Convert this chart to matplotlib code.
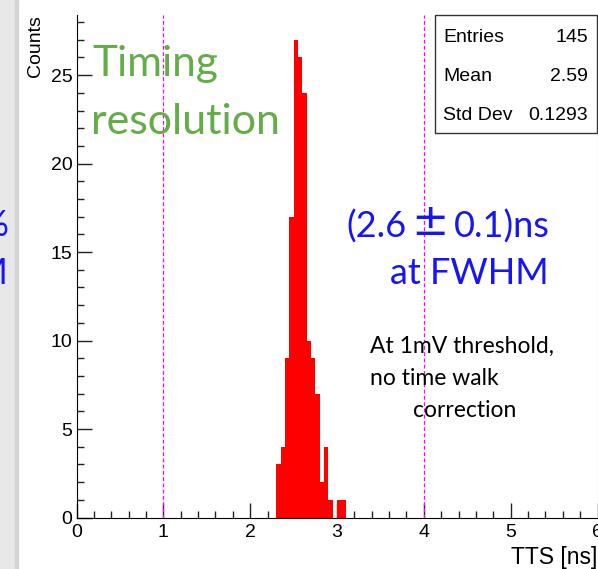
import matplotlib
matplotlib.use("Agg")
import matplotlib.pyplot as plt
from matplotlib.patches import Rectangle
from matplotlib.ticker import MultipleLocator

W, H = 598, 569

# histogram contents (bin width 0.05 ns)
bin_lo = [2.30, 2.35, 2.40, 2.45, 2.50, 2.55, 2.60, 2.65, 2.70, 2.75,
          2.80, 2.85, 2.90, 2.95, 3.00, 3.05]
counts = [3, 4, 9, 17, 27, 26, 24, 10, 9, 7, 2, 4, 1, 0, 1, 1]
bin_w = 0.05
cut_lines = [1, 4]
stats = [("Entries", "145"), ("Mean", "2.59"), ("Std Dev", "0.1293")]

def fx(x): return x / W
def fy(y): return 1 - y / H

fig = plt.figure(figsize=(W / 100, H / 100), dpi=100)
fig.patch.set_facecolor("white")
renderer = fig.canvas.get_renderer()

# grey strip of the slide on the left
fig.patches.append(Rectangle((0, 0), fx(15), 1, transform=fig.transFigure,
                             color="#e8e8e8", zorder=0))
fig.patches.append(Rectangle((fx(15), 0), fx(3), 1, transform=fig.transFigure,
                             color="#d4d4d4", zorder=0))
blue = "#1515f5"
fig.text(fx(9), fy(236), "5%", ha="right", va="baseline", color=blue,
         fontsize=26, family="Lato")
fig.text(fx(9), fy(284), "HM", ha="right", va="baseline", color=blue,
         fontsize=26, family="Lato")

ax = fig.add_axes([fx(76.5), 51.5 / H, (597.5 - 76.5) / W, (517.5 - 15) / H])
ax.set_facecolor("white")
ax.bar(bin_lo, counts, width=bin_w, align="edge", color="#ff0000",
       linewidth=0, zorder=2)
for xc in cut_lines:
    ax.axvline(xc, color="#ff00ff", lw=0.9, ls=(0, (3, 2)), zorder=3)

ax.set_xlim(0, 6)
ax.set_ylim(0, 28.4)
ax.xaxis.set_major_locator(MultipleLocator(1))
ax.xaxis.set_minor_locator(MultipleLocator(0.2))
ax.yaxis.set_major_locator(MultipleLocator(5))
ax.yaxis.set_minor_locator(MultipleLocator(1))
ax.tick_params(which="both", direction="in", top=False, right=False,
               width=1, color="#222222", labelsize=14,
               labelfontfamily="Liberation Sans")
ax.tick_params(which="major", length=11)
ax.tick_params(which="minor", length=5)
ax.tick_params(axis="x", pad=5)
ax.tick_params(axis="y", pad=3)
ax.spines["top"].set_visible(False)
ax.spines["right"].set_color("#b0b0b0")

ax.set_ylabel("Counts", fontsize=14, family="Liberation Sans", loc="top", labelpad=5)
ax.set_xlabel("TTS [ns]", fontsize=16.5, family="Liberation Sans", loc="right", labelpad=3)

# stats box
fig.patches.append(Rectangle((fx(435), fy(133)), fx(597) - fx(435), fy(15) - fy(133),
                             transform=fig.transFigure, facecolor="white",
                             edgecolor="#333333", lw=1, zorder=5))
for i, (k, v) in enumerate(stats):
    yb = fy(41.5 + 39.5 * i)
    fig.text(fx(443), yb, k, ha="left", va="baseline", fontsize=14,
             family="Liberation Sans", zorder=6)
    fig.text(fx(588), yb, v, ha="right", va="baseline", fontsize=14,
             family="Liberation Sans", zorder=6)

# annotations
green = "#62ad45"
fig.text(fx(92), fy(76), "Timing", color=green, fontsize=30.5, family="Lato", va="baseline")
fig.text(fx(91), fy(134), "resolution", color=green, fontsize=31, family="Lato", va="baseline")

# first blue line drawn in pieces: the +- sign is a wide one in the reference
t3 = fig.text(fx(550), fy(238), "0.1)ns", color=blue, fontsize=26, family="Lato",
              ha="right", va="baseline")
x_left = t3.get_window_extent(renderer).x0
t2 = fig.text((x_left - 5) / W, fy(235), "\u00b1", color=blue, fontsize=32,
              family="DejaVu Sans", ha="right", va="baseline")
x_left = t2.get_window_extent(renderer).x0
fig.text((x_left - 5) / W, fy(238), "(2.6", color=blue, fontsize=26, family="Lato",
         ha="right", va="baseline")
fig.text(fx(549), fy(284), "at FWHM", color=blue, fontsize=26, family="Lato",
         ha="right", va="baseline")

fig.text(fx(370), fy(353), "At 1mV threshold,", fontsize=16.5, family="Lato", va="baseline")
fig.text(fx(370), fy(385), "no time walk", fontsize=16.5, family="Lato", va="baseline")
fig.text(fx(413), fy(417), "correction", fontsize=16.5, family="Lato", va="baseline")

fig.savefig("out.png", dpi=100)
